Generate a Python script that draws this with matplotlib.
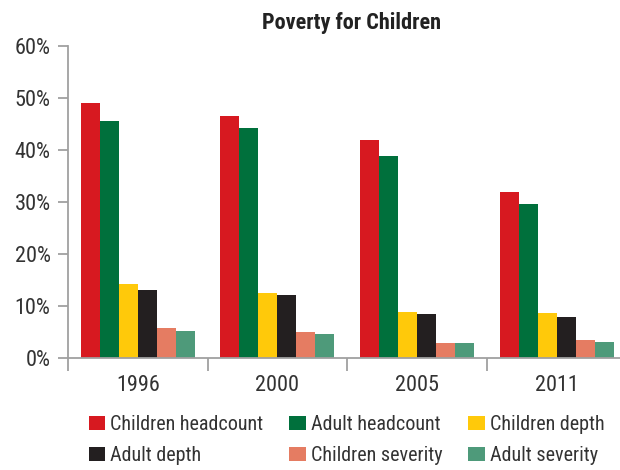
import numpy as np
import matplotlib
matplotlib.use("Agg")
import matplotlib.pyplot as plt
import matplotlib.font_manager as fm
from matplotlib.ticker import PercentFormatter
from matplotlib.patches import Patch

# pick a condensed sans if one is installed
installed = set(f.name for f in fm.fontManager.ttflist)
for name in ["Roboto Condensed", "Liberation Sans Narrow", "Archivo Narrow",
             "PT Sans Narrow", "IBM Plex Sans Condensed", "Sofia Sans Condensed"]:
    if name in installed:
        break
else:
    name = "DejaVu Sans"
plt.rcParams['font.family'] = [name, 'DejaVu Sans']

# Data
years = ["1996", "2000", "2005", "2011"]
series = ["Children headcount", "Adult headcount", "Children depth",
          "Adult depth", "Children severity", "Adult severity"]
children_headcount = [49.0, 46.5, 41.9, 31.9]
adult_headcount = [45.6, 44.2, 38.8, 29.6]
children_depth = [14.2, 12.5, 8.8, 8.7]
adult_depth = [13.1, 12.1, 8.5, 7.9]
children_severity = [5.8, 5.0, 2.9, 3.5]
adult_severity = [5.2, 4.6, 2.9, 3.1]
colors = ["#d71920", "#00703c", "#ffc90a", "#231f20", "#e57c62", "#4e9a7a"]

values = [children_headcount, adult_headcount, children_depth,
          adult_depth, children_severity, adult_severity]

fig = plt.figure(figsize=(6.2, 4.7), dpi=100)
ax = fig.add_axes([68 / 620, 112 / 470, 558.5 / 620, 312 / 470])

x = np.arange(len(years))
w = 0.136
for i, (vals, col) in enumerate(zip(values, colors)):
    ax.bar(x + (i - 2.5) * w, vals, width=w, color=col, linewidth=0)

gray = "#a0a0a0"
txt = "#333333"
ax.set_ylim(0, 60)
ax.set_xlim(-0.5, 3.5)
ax.set_yticks(range(0, 61, 10))
ax.yaxis.set_major_formatter(PercentFormatter(decimals=0))
ax.set_xticks(x)
ax.set_xticklabels(years)
ax.set_xticks(np.arange(-0.5, 4, 1), minor=True)
ax.tick_params(axis="x", which="major", length=0, pad=12, labelsize=16, labelcolor=txt)
ax.tick_params(axis="x", which="minor", length=9, width=1.3, color=gray, direction="out")
ax.tick_params(axis="y", length=7, width=1.3, color=gray, labelsize=16, labelcolor=txt, pad=5.5)
for s in ["top", "right"]:
    ax.spines[s].set_visible(False)
for s in ["left", "bottom"]:
    ax.spines[s].set_color(gray)
    ax.spines[s].set_linewidth(1.3)

fig.text(351 / 620, 1 - 29.5 / 470, "Poverty for Children", ha="center", va="baseline",
         fontsize=16, fontweight="bold", color="#222222")

handles = [Patch(facecolor=c, label=s) for c, s in zip(colors, series)]
order = [0, 3, 1, 4, 2, 5]
leg = fig.legend([handles[i] for i in order], [series[i] for i in order],
                 ncol=3, loc="upper left", bbox_to_anchor=(89 / 620, 1 - 415 / 470),
                 frameon=False, fontsize=14.5, handlelength=0.8, handleheight=0.75,
                 handletextpad=0.25, columnspacing=1.3, labelspacing=0.6,
                 borderpad=0, borderaxespad=0)
for t in leg.get_texts():
    t.set_color(txt)

fig.savefig("out.png", dpi=100)
